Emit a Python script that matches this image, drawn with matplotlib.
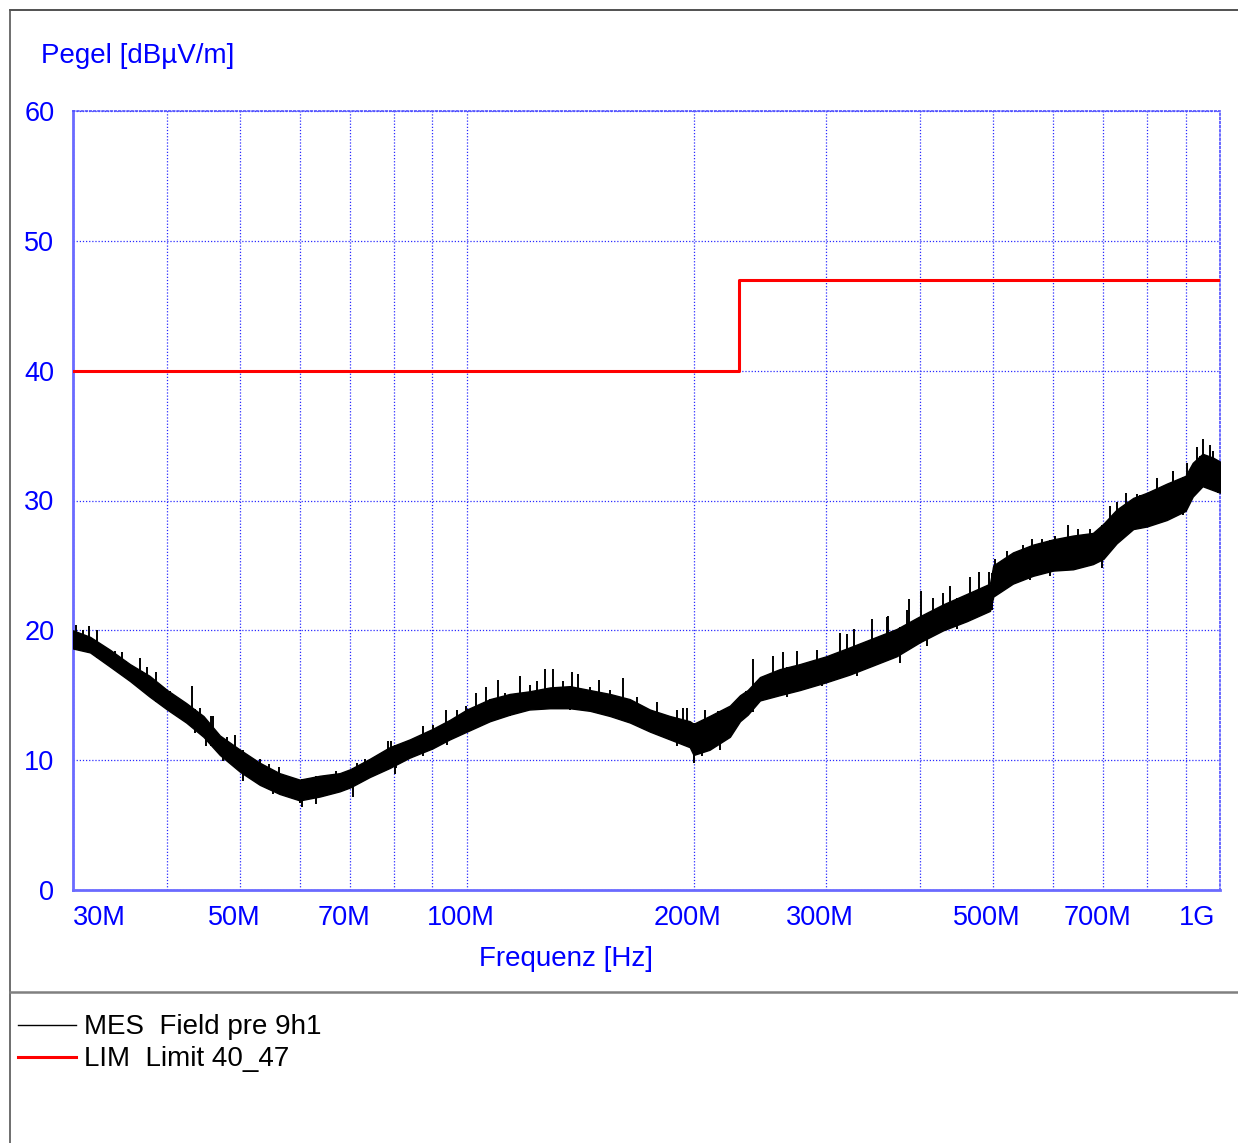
import numpy as np
import matplotlib
matplotlib.use("Agg")
import matplotlib.pyplot as plt
from matplotlib.lines import Line2D
from matplotlib.transforms import ScaledTranslation

plt.rcParams['font.family'] = ['Liberation Sans', 'DejaVu Sans']

# ---------------- data (frequency in MHz, level in dBuV/m) ----------------
mes_freq = [30, 31.6, 33.6, 35.7, 37.9, 40, 42.4, 44.7, 47.0, 50, 53.1, 56.4, 60, 63.8,
            67.8, 70, 74.3, 79, 84, 90, 94.9, 100, 107.3, 114, 121, 128.9, 137, 145.7,
            154.9, 164.6, 175, 186, 197.7, 200, 210, 223.5, 230.5, 236, 245, 260, 276.8,
            300, 322.7, 346.5, 372, 400, 429, 461, 495, 500, 531, 564.6, 600, 638, 678,
            700, 729, 767, 800, 850, 900, 920, 948, 979, 1000]
mes_low = [18.6, 18.3, 17.2, 16.1, 14.9, 13.9, 12.9, 11.8, 10.4, 9.1, 8.1, 7.4, 6.9, 7.2,
           7.6, 7.9, 8.7, 9.4, 10.2, 10.9, 11.6, 12.2, 13.0, 13.5, 13.9, 14.0, 14.0, 13.8,
           13.4, 12.9, 12.2, 11.6, 11.0, 10.4, 10.8, 11.8, 13.0, 13.5, 14.6, 15.0, 15.4,
           16.0, 16.6, 17.3, 18.0, 19.1, 20.0, 20.7, 21.5, 22.6, 23.6, 24.2, 24.6, 24.7, 25.1,
           25.5, 26.7, 27.8, 28.0, 28.5, 29.2, 30.3, 31.1, 30.8, 30.6]
mes_high = [20.0, 19.5, 18.5, 17.4, 16.5, 15.4, 14.4, 13.4, 11.9, 10.8, 9.8, 9.0, 8.5, 8.8,
            9.0, 9.3, 10.1, 11.0, 11.6, 12.4, 13.1, 13.9, 14.7, 15.1, 15.3, 15.6, 15.7, 15.4,
            15.1, 14.7, 13.9, 13.4, 13.0, 12.8, 13.4, 14.2, 15.0, 15.4, 16.4, 17.0, 17.4,
            18.0, 18.7, 19.4, 20.1, 21.1, 22.0, 22.8, 23.6, 25.0, 26.0, 26.6, 27.0, 27.3, 27.5,
            28.2, 29.3, 30.2, 30.6, 31.3, 31.9, 32.9, 33.6, 33.3, 33.0]

# upward peaks above the noise band
spike_freq = [30.2, 30.3, 30.9, 31.5, 32.3, 32.9, 34.1, 34.8, 36.8, 37.6, 38.7, 40.3, 41.6,
              43.1, 44.2, 45.8, 46.0, 48.0, 49.2, 50.5, 53.1, 54.7, 56.4, 61.9, 67.1, 71.4,
              73.2, 75.9, 78.6, 79.4, 87.5, 90.2, 93.8, 96.9, 99.9, 103, 106.2, 110, 112.3,
              117.6, 121.2, 123.8, 126.9, 130.2, 134.2, 138, 140.6, 145.7, 149.9, 154.9, 161,
              168.0, 178.6, 189.9, 193.8, 195.9, 207.1, 215.7, 225.8, 230.5, 235, 239.8,
              255.2, 263.1, 274, 291.3, 312.9, 319.3, 327, 345, 360.8, 362, 383.7, 387,
              400.6, 416.3, 429.1, 437.9, 465.6, 479, 493, 502.5, 521.0, 548.2, 562.4, 579.9,
              603.9, 628, 647, 672.1, 714.4, 729.2, 750, 775.2, 823.9, 825, 866, 867.0,
              903.3, 931.3, 948, 969, 979.8]
spike_peak = [19.8, 20.4, 20.05, 20.3, 20.0, 18.8, 18.4, 18.3, 17.9, 17.2, 16.8, 15.3, 14.7,
              15.7, 14.0, 13.4, 13.4, 11.8, 11.9, 10.8, 10.1, 9.7, 9.5, 8.6, 9.2, 9.8,
              10.1, 10.4, 11.5, 11.5, 12.6, 12.7, 13.9, 13.9, 14.2, 15.2, 15.6, 16.2, 15.2,
              16.5, 15.8, 16.1, 17.0, 17.0, 16.1, 16.8, 16.6, 15.6, 16.2, 15.4, 16.3,
              14.9, 14.5, 13.9, 14.0, 14.0, 13.9, 13.8, 14.2, 14.8, 15.3, 17.8,
              18.0, 18.3, 18.4, 18.5, 19.8, 19.7, 20.1, 20.9, 21.0, 21.1, 21.6, 22.4,
              23.0, 22.5, 22.9, 23.4, 24.1, 24.5, 24.5, 25.5, 26.1, 26.6, 27.0, 27.0,
              27.3, 28.1, 27.8, 27.8, 29.6, 29.9, 30.6, 30.5, 31.6, 31.7, 32.3, 32.3,
              32.9, 34.1, 34.7, 34.3, 33.8]

# downward drops below the noise band
dip_freq = [30.3, 32.2, 35.3, 37.0, 39.5, 43.5, 45.1, 47.5, 50.5, 55.3, 60.0, 60.5, 63.1,
            70.6, 80.2, 80.6, 87.5, 94.0, 100.4, 107.3, 114, 137, 161.3, 171.5, 189.9,
            200.0, 200.5, 205, 216.8, 240.0, 265.9, 295.8, 329.3, 375.8, 407.9, 447.0,
            498, 559.5, 594.8, 696.4, 783.1, 894, 940.6, 995]
dip_val = [18.5, 18.0, 16.5, 16.1, 14.2, 12.1, 11.1, 9.9, 8.4, 7.4, 6.7, 6.4, 6.6,
           7.2, 8.9, 9.4, 10.3, 11.2, 12.2, 13.0, 13.4, 13.9, 13.3, 12.4, 11.1,
           9.8, 9.8, 10.3, 10.8, 13.7, 14.9, 15.7, 16.5, 17.5, 18.8, 20.1,
           21.6, 23.9, 24.2, 24.8, 27.8, 28.9, 30.8, 30.6]

lim_freq = [30, 230, 1000]
lim_val = [40, 47, 47]

major_ticks = [30, 50, 70, 100, 200, 300, 500, 700, 1000]
major_labels = ['30M', '50M', '70M', '100M', '200M', '300M', '500M', '700M', '1G']
grid_freqs = [40, 60, 80, 90, 400, 600, 800, 900]
y_ticks = [0, 10, 20, 30, 40, 50, 60]

# ---------------- figure ----------------
W, H = 1238, 1143
fig = plt.figure(figsize=(W / 100, H / 100), dpi=100)
ax = fig.add_axes([73 / W, 1 - 890 / H, (1220 - 73) / W, (890 - 111) / H])

ax.set_xscale('log')
ax.set_xlim(30, 1000)
ax.set_ylim(0, 60)

blue = '#0000ff'
gridc = '#2a2aff'
ax.set_xticks(major_ticks)
ax.set_xticklabels(major_labels)
ax.set_xticks(grid_freqs, minor=True)
ax.set_xticklabels([], minor=True)
ax.set_yticks(y_ticks)
ax.tick_params(which='both', length=0)
ax.tick_params(axis='x', pad=11, labelsize=19.5, labelcolor=blue)
ax.tick_params(axis='y', pad=13.5, labelsize=19.5, labelcolor=blue)
ax.grid(True, which='both', axis='x', color=gridc, linestyle=(0, (1, 1.5)), linewidth=0.9)
ax.grid(True, which='major', axis='y', color=gridc, linestyle=(0, (1, 1.5)), linewidth=0.9)
ax.set_axisbelow(True)

for s in ('left', 'bottom'):
    ax.spines[s].set_color('#6a6aff')
    ax.spines[s].set_linewidth(2)
for s in ('top', 'right'):
    ax.spines[s].set_color('#5050ff')
    ax.spines[s].set_linewidth(1.2)
    ax.spines[s].set_linestyle((0, (1, 1.5)))

# label offsets
labels = ax.get_xticklabels()
for i, lab in enumerate(labels):
    if i == 0:
        lab.set_ha('left')
    elif i == len(labels) - 1:
        lab.set_ha('right')
        lab.set_transform(lab.get_transform() + ScaledTranslation(-5 / 100, 0, fig.dpi_scale_trans))
    else:
        lab.set_transform(lab.get_transform() + ScaledTranslation(-6 / 100, 0, fig.dpi_scale_trans))

# measurement trace
lf = np.log10(mes_freq)
ax.fill_between(mes_freq, mes_low, mes_high, color='black', linewidth=1.0, edgecolor='black', zorder=3)
base = np.interp(np.log10(spike_freq), lf, mes_low)
ax.vlines(spike_freq, base, spike_peak, color='black', linewidth=1.4, zorder=3)
top = np.interp(np.log10(dip_freq), lf, mes_high)
ax.vlines(dip_freq, dip_val, top, color='black', linewidth=1.4, zorder=3)

# limit line
ax.plot(lim_freq, lim_val, drawstyle='steps-post', color='#ff0000', linewidth=2.2, zorder=4)

# axis titles
fig.text(41 / W, 1 - 56 / H, 'Pegel [dBµV/m]', color=blue, fontsize=20, ha='left', va='center')
fig.text(566 / W, 1 - 959 / H, 'Frequenz [Hz]', color=blue, fontsize=20, ha='center', va='center')

# frame lines
fig.add_artist(Line2D([10 / W, 1], [1 - 10 / H, 1 - 10 / H], color='#333333', linewidth=1.2,
                      transform=fig.transFigure))
fig.add_artist(Line2D([10 / W, 10 / W], [1 - 10 / H, 0], color='#555555', linewidth=1.2,
                      transform=fig.transFigure))
fig.add_artist(Line2D([10 / W, 1], [1 - 992 / H, 1 - 992 / H], color='#808080', linewidth=1.8,
                      transform=fig.transFigure))

# legend
fig.add_artist(Line2D([18 / W, 76 / W], [1 - 1025 / H] * 2, color='black', linewidth=1.0,
                      transform=fig.transFigure))
fig.add_artist(Line2D([18 / W, 76 / W], [1 - 1057 / H] * 2, color='#ff0000', linewidth=2.2,
                      transform=fig.transFigure))
fig.text(84 / W, 1 - 1027 / H, 'MES  Field pre 9h1', color='black', fontsize=20, ha='left', va='center')
fig.text(84 / W, 1 - 1059 / H, 'LIM  Limit 40_47', color='black', fontsize=20, ha='left', va='center')

fig.savefig('out.png', dpi=100, facecolor='white')
